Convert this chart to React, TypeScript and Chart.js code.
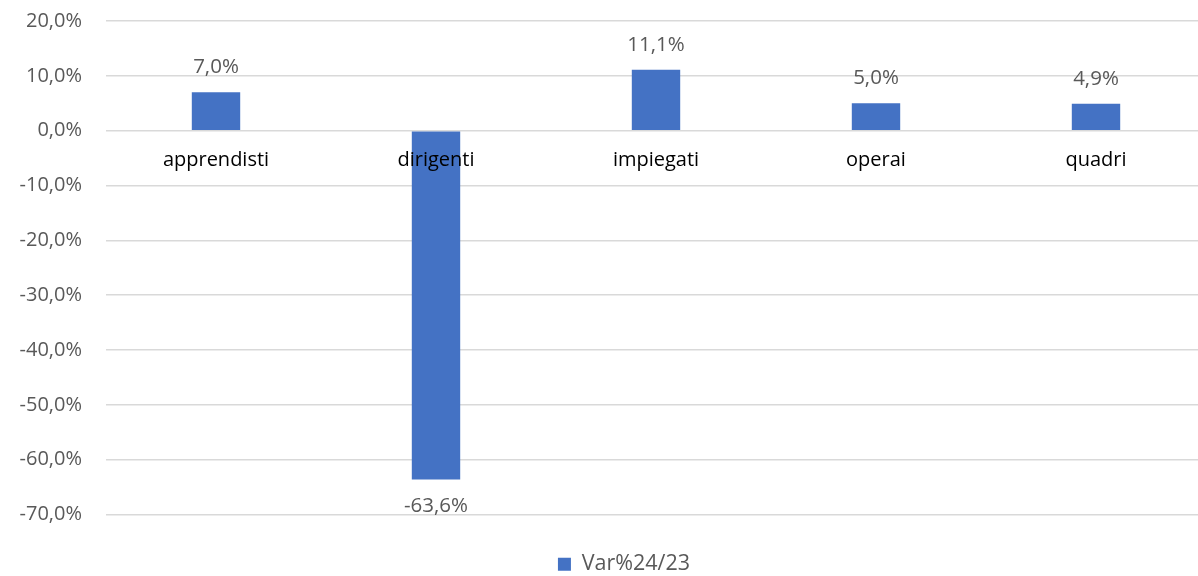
import React, { useEffect, useRef } from "react";
import { Chart, registerables } from "chart.js";

Chart.register(...registerables);

const categories = ["apprendisti", "dirigenti", "impiegati", "operai", "quadri"];
const values = [7.0, -63.6, 11.1, 5.0, 4.9];
const seriesName = "Var%24/23";
const yMin = -70;
const yMax = 20;
const yStep = 10;

const FONT = "'Open Sans', 'Noto Sans', sans-serif";
const fmt = (v: number) => v.toFixed(1).replace(".", ",") + "%";

const labelsPlugin = {
  id: "labelsPlugin",
  beforeInit(chart: any) {
    const legend = chart.legend;
    if (legend) {
      const orig = legend.fit;
      legend.fit = function () {
        orig.call(this);
        this.height -= 9;
      };
    }
  },
  afterLayout(chart: any) {
    const legend = chart.legend;
    if (legend) {
      legend.left += 21;
      legend.right += 21;
    }
  },
  afterDatasetsDraw(chart: any) {
    const ctx = chart.ctx;
    const meta = chart.getDatasetMeta(0);
    const y = chart.scales.y;
    const zeroY = y.getPixelForValue(0);
    ctx.save();
    ctx.textAlign = "center";
    ctx.textBaseline = "middle";
    meta.data.forEach((bar: any, i: number) => {
      const v = values[i];
      ctx.fillStyle = "#595959";
      ctx.font = `20.5px ${FONT}`;
      if (v >= 0) {
        ctx.fillText(fmt(v), bar.x, bar.y - 25);
      } else {
        ctx.fillText(fmt(v), bar.x, bar.y + 27);
      }
      ctx.fillStyle = "#000000";
      ctx.font = `20px ${FONT}`;
      ctx.fillText(categories[i], bar.x, zeroY + 30);
    });
    ctx.restore();
  },
};

export default function App() {
  const ref = useRef<HTMLCanvasElement>(null);
  useEffect(() => {
    if (!ref.current) return;
    const chart = new Chart(ref.current, {
      type: "bar",
      data: {
        labels: categories,
        datasets: [
          {
            label: seriesName,
            data: values,
            backgroundColor: "#4472C4",
            borderWidth: 0,
            barPercentage: 1,
            categoryPercentage: 0.22,
          },
        ],
      },
      options: {
        animation: false,
        responsive: true,
        maintainAspectRatio: false,
        layout: { padding: { left: 0, right: 0, top: 21, bottom: 0 } },
        plugins: {
          legend: {
            position: "bottom",
            labels: {
              font: { family: FONT, size: 21.5 },
              color: "#595959",
              boxWidth: 13,
              boxHeight: 13,
              padding: 5,
            },
          },
          tooltip: { enabled: false },
        },
        scales: {
          x: {
            display: true,
            grid: { display: false, drawTicks: false },
            border: { display: false },
            ticks: {
              color: "transparent",
              font: { family: FONT, size: 20 },
              padding: 0,
            },
            afterFit: (s: any) => {
              s.height = 34;
              s.paddingLeft = 0;
              s.paddingRight = 0;
            },
          },
          y: {
            min: yMin,
            max: yMax,
            ticks: {
              stepSize: yStep,
              callback: (v: any) => fmt(Number(v)),
              font: { family: FONT, size: 20 },
              color: "#595959",
              padding: 24,
            },
            grid: { color: "#d9d9d9", lineWidth: 1.5, drawTicks: false },
            border: { display: false },
            afterFit: (s: any) => {
              s.width = 106;
              s.paddingTop = 0;
              s.paddingBottom = 0;
            },
          },
        },
      },
      plugins: [labelsPlugin],
    });
    return () => chart.destroy();
  }, []);
  return (
    <div style={{ position: "absolute", left: 0, top: 0, width: 1198, height: 576, overflow: "hidden", background: "#fff" }}>
      <div style={{ width: 1206, height: 576 }}>
        <canvas ref={ref} />
      </div>
    </div>
  );
}
